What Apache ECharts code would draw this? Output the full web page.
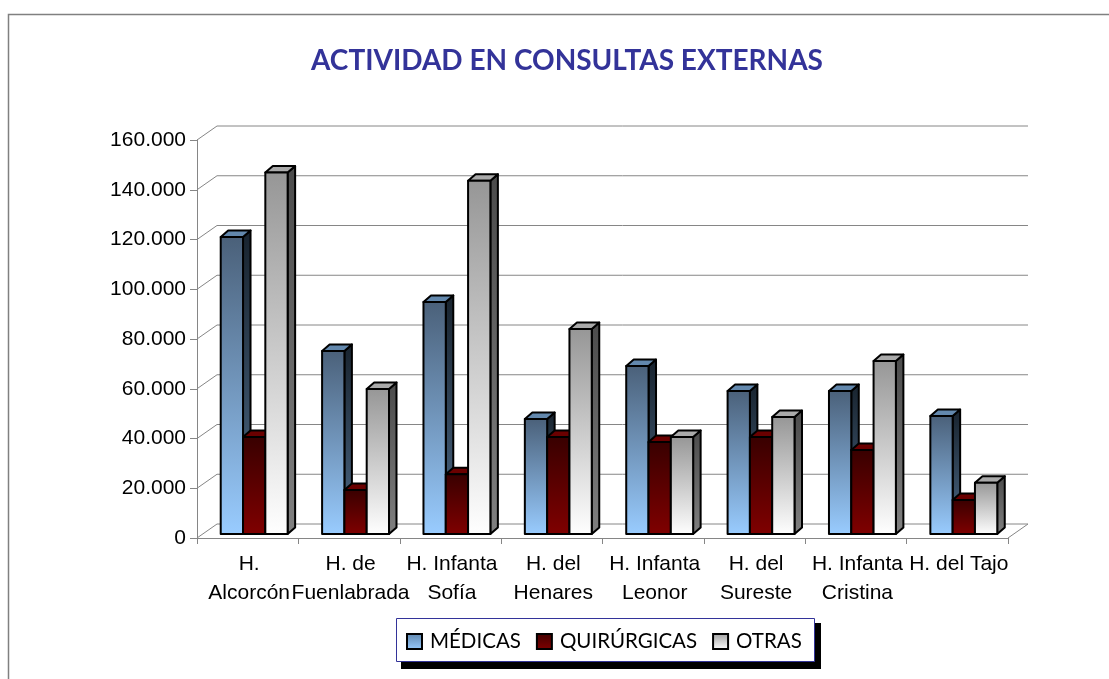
<!DOCTYPE html>
<html><head><meta charset="utf-8">
<style>html,body{margin:0;padding:0;background:#fff}#c{width:1109px;height:679px}</style>
<script src="https://cdn.jsdelivr.net/npm/echarts@6/dist/echarts.min.js"></script>
</head><body><div id="c"></div>
<script>
const categories = ['H.\nAlcorcón','H. de\nFuenlabrada','H. Infanta\nSofía','H. del\nHenares','H. Infanta\nLeonor','H. del\nSureste','H. Infanta\nCristina','H. del Tajo'];
const medicas     = [119400,73600,93300,46200,67500,57500,57500,47400];
const quirurgicas = [39000,17700,24000,39000,37000,39000,33800,13700];
const otras       = [145300,58300,142000,82400,39000,47000,69500,20600];
const gridTicks   = [0,20000,40000,60000,80000,100000,120000,140000,160000];
const seriesNames = ['MÉDICAS','QUIRÚRGICAS','OTRAS'];

const grad = (a,b)=>({type:'linear',x:0,y:0,x2:0,y2:1,colorStops:[{offset:0,color:a},{offset:1,color:b}]});
const palettes = [
  {front:grad('#4a6079','#99ccff'), side:grad('#18232e','#4d6a88'), top:'#6388ad', legend:grad('#5f86ad','#99ccff')},
  {front:grad('#380000','#800000'), side:grad('#1c0000','#400000'), top:'#6a0000', legend:grad('#400000','#800000')},
  {front:grad('#969696','#ffffff'), side:grad('#4b4b4b','#808080'), top:'#aaaaaa', legend:grad('#a0a0a0','#ffffff')}
];
const DX=7.5, DY=6.5, LIFT=4, BAR=0.22, START=-0.266;
const edge={stroke:'#000',lineWidth:2,lineJoin:'round'};

function barSeries(name,values,idx){
  const p=palettes[idx];
  return {
    type:'custom',name,coordinateSystem:'cartesian2d',clip:false,z:3,
    itemStyle:{color:p.legend},
    encode:{x:0,y:1},
    data:values.map((v,i)=>[i,v]),
    renderItem(params,api){
      const c=api.coord([api.value(0),api.value(1)]);
      const base=api.coord([api.value(0),0])[1]-LIFT;
      const band=api.size([1,0])[0];
      const w=band*BAR;
      const x=c[0]+band*START+idx*w;
      const y=c[1]-LIFT;
      const poly=(points,fill)=>({type:'polygon',shape:{points},style:Object.assign({fill},edge)});
      return {type:'group',children:[
        poly([[x+w,y],[x+w+DX,y-DY],[x+w+DX,base-DY],[x+w,base]],p.side),
        poly([[x,y],[x+DX,y-DY],[x+w+DX,y-DY],[x+w,y]],p.top),
        poly([[x,y],[x+w,y],[x+w,base],[x,base]],p.front)
      ]};
    }
  };
}

const wall={
  type:'custom',silent:true,clip:false,z:1,
  encode:{x:0,y:1},
  data:gridTicks.map(v=>[0,v]),
  renderItem(params,api){
    const cs=params.coordSys;
    const y=api.coord([0,api.value(1)])[1];
    const x0=cs.x,x1=cs.x+cs.width,ox=20,oy=14;
    const style={stroke:'#868686',lineWidth:1,fill:null};
    const children=[{type:'polyline',shape:{points:[[x0,y],[x0+ox,y-oy],[x1+ox,y-oy]]},style}];
    if(api.value(1)===0) children.push({type:'line',shape:{x1:x1+ox,y1:y-oy,x2:x1,y2:y},style});
    return {type:'group',children};
  }
};

const chart=echarts.init(document.getElementById('c'),null,{renderer:'canvas'});
chart.setOption({
  animation:false,
  backgroundColor:'#ffffff',
  title:{text:'ACTIVIDAD EN CONSULTAS EXTERNAS',left:562,textAlign:'center',top:42,
    textStyle:{fontFamily:'Lato',fontWeight:'bold',fontSize:28,color:'#333399'}},
  grid:{left:197,top:140,width:811,height:398},
  legend:{
    left:396,top:618,orient:'horizontal',z:5,
    padding:[13,15,12,10],itemGap:15,itemWidth:15,itemHeight:15,
    textStyle:{fontFamily:'Lato',fontSize:20.5,color:'#000',padding:[4,0,0,3]},
    data:seriesNames.map((name,i)=>({name,icon:'rect',itemStyle:{color:palettes[i].legend,borderColor:'#000',borderWidth:2}}))
  },
  xAxis:{type:'category',data:categories,
    axisLine:{lineStyle:{color:'#868686'}},
    axisTick:{show:true,alignWithLabel:false,length:6,lineStyle:{color:'#868686'}},
    splitLine:{show:false},
    axisLabel:{interval:0,hideOverlap:false,margin:12,lineHeight:29,padding:[0,0,0,3],fontFamily:'Liberation Sans',fontSize:21,color:'#000'}},
  yAxis:{type:'value',min:0,max:160000,interval:20000,
    axisLine:{show:true,lineStyle:{color:'#868686'}},
    axisTick:{show:true,length:7,lineStyle:{color:'#868686'}},
    splitLine:{show:false},
    axisLabel:{margin:11,fontFamily:'Liberation Sans',fontSize:21,color:'#000',
      formatter:v=>String(v).replace(/\B(?=(\d{3})+$)/g,'.')}},
  graphic:[
    {type:'polyline',silent:true,z:-1,shape:{points:[[8.5,679],[8.5,14.5],[1109,14.5]]},style:{fill:null,stroke:'#808080',lineWidth:1.5}},
    {type:'rect',silent:true,z:2,shape:{x:401,y:623,width:420,height:46},style:{fill:'#000'}},
    {type:'rect',silent:true,z:3,shape:{x:396.5,y:618.5,width:418,height:43},style:{fill:'#fff',stroke:'#333399',lineWidth:1}}
  ],
  series:[wall,barSeries(seriesNames[0],medicas,0),barSeries(seriesNames[1],quirurgicas,1),barSeries(seriesNames[2],otras,2)]
});
</script></body></html>
